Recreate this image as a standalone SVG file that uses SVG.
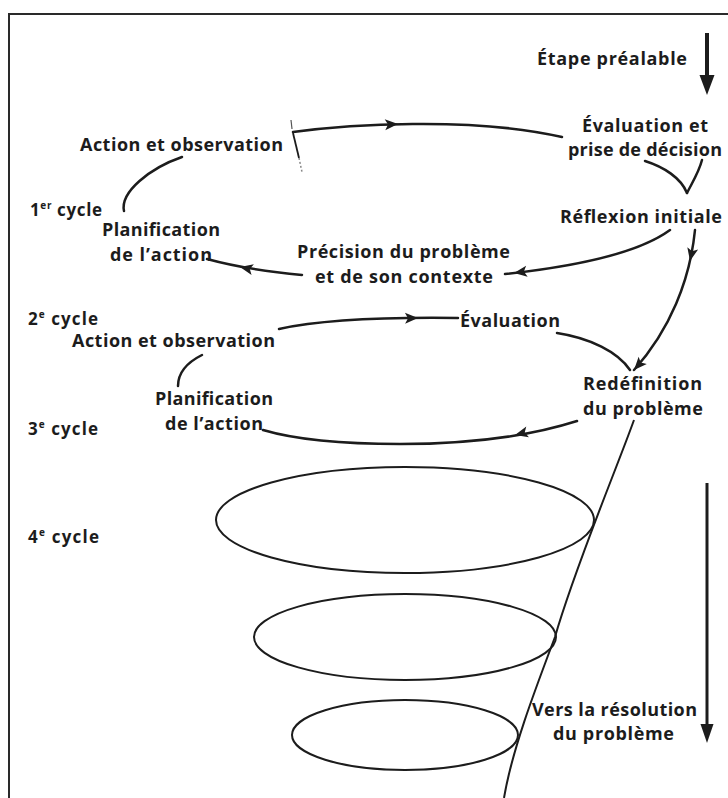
<svg xmlns="http://www.w3.org/2000/svg" xmlns:xlink="http://www.w3.org/1999/xlink" width="728" height="798" viewBox="0 0 728 798">
  <style>
    text { font-family: "Open Sans", "Liberation Sans", sans-serif; font-weight: 700; font-size: 18px; fill: #1c1c1c; }
    .cyc { font-weight: 700; font-size: 17px; }
    .sup { font-size: 10px; }
    .line { fill: none; stroke: #1c1c1c; stroke-width: 2.5; stroke-linecap: round; }
    .thin { fill: none; stroke: #1c1c1c; stroke-width: 2; }
    .head { fill: #1c1c1c; }
  </style>
  <defs>
    <path id="ah" d="M0,0 L-13,-5.5 L-10,0 L-13,5.5 Z"/>
  </defs>
  <rect x="0" y="0" width="728" height="798" fill="#ffffff"/>
  <!-- frame -->
  <path d="M9,798 V14 H728" fill="none" stroke="#2a2a2a" stroke-width="2"/>

  <g id="connectors">
    <!-- big arrows -->
    <line x1="707" y1="33" x2="707" y2="78" stroke="#1c1c1c" stroke-width="4"/>
    <polygon class="head" points="699.5,75 714.5,75 707,95"/>
    <line x1="707" y1="483" x2="707" y2="727" stroke="#1c1c1c" stroke-width="3"/>
    <polygon class="head" points="700.5,724 713.5,724 707,743"/>

    <!-- cycle 1 -->
    <path class="line" d="M293,132 C345,125 470,116 562,137"/>
    <use href="#ah" class="head" transform="translate(398,124) rotate(-3)"/>
    <line x1="291" y1="120" x2="292" y2="129" stroke="#555" stroke-width="1.2"/>
    <line x1="293" y1="133" x2="299" y2="158" stroke="#1c1c1c" stroke-width="1.8"/>
    <line x1="299" y1="158" x2="302" y2="172" stroke="#888" stroke-width="1.5" stroke-dasharray="2 2"/>
    <path class="line" d="M645,161 C664,167 681,178 687,193"/>
    <path class="line" d="M702,160 C699,172 692,183 687,193"/>
    <path class="line" d="M670,230 C640,252 580,266 505,274"/>
    <use href="#ah" class="head" transform="translate(514,273) rotate(172)"/>
    <path class="line" d="M302,275 C270,272 240,268 207,259"/>
    <use href="#ah" class="head" transform="translate(240,267) rotate(192)"/>
    <path class="line" d="M182,157 C150,168 120,192 124,211"/>

    <!-- cycle 2 -->
    <path class="line" d="M695,230 C690,280 670,330 634,370"/>
    <use href="#ah" class="head" transform="translate(690,261) rotate(102)"/>
    <use href="#ah" class="head" transform="translate(634,370) rotate(132)"/>
    <path class="line" d="M557,333 C590,338 618,352 630,370"/>
    <path class="line" d="M279,329 C320,320 380,317 458,318"/>
    <use href="#ah" class="head" transform="translate(418,318) rotate(-1)"/>
    <path class="line" d="M202,355 C188,362 178,372 178,386"/>
    <path class="line" d="M577,421 C530,436 470,444 400,444 C330,444 290,438 263,430"/>
    <use href="#ah" class="head" transform="translate(515,435) rotate(166)"/>

    <!-- spiral -->
    <path class="thin" d="M634,420 C616,470 574,570 555,637 C535,690 512,750 504,798"/>
    <ellipse class="thin" cx="405" cy="520" rx="189" ry="53"/>
    <ellipse class="thin" cx="405" cy="637" rx="151" ry="43"/>
    <ellipse class="thin" cx="405" cy="735" rx="113" ry="35"/>
  </g>

  <g id="n-etape"><text x="537" y="65" textLength="150">Étape préalable</text></g>
  <g id="n-evaluation1">
    <text x="582" y="132" textLength="126">Évaluation et</text>
    <text x="568" y="156" textLength="154">prise de décision</text>
  </g>
  <g id="n-action1"><text x="80" y="151" textLength="203">Action et observation</text></g>
  <g id="n-cycle1"><text class="cyc" x="30" y="216" textLength="72">1<tspan class="sup" dy="-7">er</tspan><tspan dy="7"> cycle</tspan></text></g>
  <g id="n-planif1">
    <text x="102" y="236" textLength="118">Planification</text>
    <text x="110" y="261" textLength="102">de l’action</text>
  </g>
  <g id="n-reflexion"><text x="560" y="223" textLength="162">Réflexion initiale</text></g>
  <g id="n-precision">
    <text x="297" y="258" textLength="213">Précision du problème</text>
    <text x="315" y="283" textLength="178">et de son contexte</text>
  </g>
  <g id="n-cycle2"><text class="cyc" x="28" y="325" textLength="70">2<tspan class="sup" dy="-7">e</tspan><tspan dy="7"> cycle</tspan></text></g>
  <g id="n-action2"><text x="72" y="347" textLength="203">Action et observation</text></g>
  <g id="n-evaluation2"><text x="460" y="327" textLength="100">Évaluation</text></g>
  <g id="n-redefinition">
    <text x="583" y="390" textLength="119">Redéfinition</text>
    <text x="583" y="415" textLength="120">du problème</text>
  </g>
  <g id="n-planif2">
    <text x="155" y="405" textLength="118">Planification</text>
    <text x="165" y="430" textLength="98">de l’action</text>
  </g>
  <g id="n-cycle3"><text class="cyc" x="28" y="435" textLength="70">3<tspan class="sup" dy="-7">e</tspan><tspan dy="7"> cycle</tspan></text></g>
  <g id="n-cycle4"><text class="cyc" x="28" y="543" textLength="71">4<tspan class="sup" dy="-7">e</tspan><tspan dy="7"> cycle</tspan></text></g>
  <g id="n-resolution">
    <text x="532" y="716" textLength="165">Vers la résolution</text>
    <text x="553" y="740" textLength="121">du problème</text>
  </g>
</svg>
